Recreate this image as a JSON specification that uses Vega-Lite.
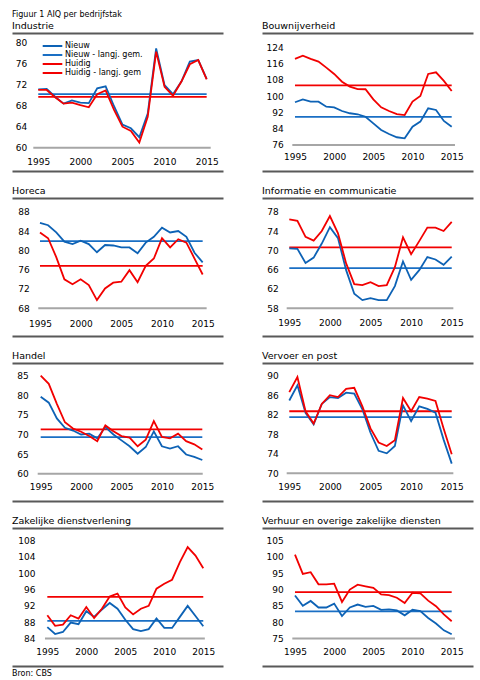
{
  "$schema": "https://vega.github.io/schema/vega-lite/v6.json",
  "padding": {"left": 12, "top": 10, "right": 5, "bottom": 5},
  "title": {"text": "Figuur 1 AIQ per bedrijfstak", "fontSize": 8, "offset": 2},
  "datasets": {
    "aiq": [
      {"sector": "Industrie", "year": 1995, "Nieuw": 71.1, "Huidig": 71.0},
      {"sector": "Industrie", "year": 1996, "Nieuw": 71.2, "Huidig": 71.0},
      {"sector": "Industrie", "year": 1997, "Nieuw": 69.7, "Huidig": 69.6},
      {"sector": "Industrie", "year": 1998, "Nieuw": 68.4, "Huidig": 68.4},
      {"sector": "Industrie", "year": 1999, "Nieuw": 69.0, "Huidig": 68.6},
      {"sector": "Industrie", "year": 2000, "Nieuw": 68.6, "Huidig": 68.1},
      {"sector": "Industrie", "year": 2001, "Nieuw": 68.5, "Huidig": 67.7},
      {"sector": "Industrie", "year": 2002, "Nieuw": 71.3, "Huidig": 70.2},
      {"sector": "Industrie", "year": 2003, "Nieuw": 71.7, "Huidig": 70.9},
      {"sector": "Industrie", "year": 2004, "Nieuw": 67.9, "Huidig": 67.2},
      {"sector": "Industrie", "year": 2005, "Nieuw": 64.4, "Huidig": 64.0},
      {"sector": "Industrie", "year": 2006, "Nieuw": 63.7, "Huidig": 63.2},
      {"sector": "Industrie", "year": 2007, "Nieuw": 62.0, "Huidig": 61.0},
      {"sector": "Industrie", "year": 2008, "Nieuw": 66.5, "Huidig": 65.9},
      {"sector": "Industrie", "year": 2009, "Nieuw": 78.9, "Huidig": 78.3},
      {"sector": "Industrie", "year": 2010, "Nieuw": 71.9, "Huidig": 71.6},
      {"sector": "Industrie", "year": 2011, "Nieuw": 70.2, "Huidig": 69.9},
      {"sector": "Industrie", "year": 2012, "Nieuw": 72.6, "Huidig": 72.6},
      {"sector": "Industrie", "year": 2013, "Nieuw": 76.4, "Huidig": 75.9},
      {"sector": "Industrie", "year": 2014, "Nieuw": 76.7, "Huidig": 76.7},
      {"sector": "Industrie", "year": 2015, "Nieuw": 73.1, "Huidig": 73.0},
      {"sector": "Bouwnijverheid", "year": 1995, "Nieuw": 97.0, "Huidig": 118.3},
      {"sector": "Bouwnijverheid", "year": 1996, "Nieuw": 98.4, "Huidig": 119.9},
      {"sector": "Bouwnijverheid", "year": 1997, "Nieuw": 97.3, "Huidig": 118.3},
      {"sector": "Bouwnijverheid", "year": 1998, "Nieuw": 97.3, "Huidig": 117.0},
      {"sector": "Bouwnijverheid", "year": 1999, "Nieuw": 94.8, "Huidig": 114.0},
      {"sector": "Bouwnijverheid", "year": 2000, "Nieuw": 94.5, "Huidig": 110.9},
      {"sector": "Bouwnijverheid", "year": 2001, "Nieuw": 92.7, "Huidig": 107.1},
      {"sector": "Bouwnijverheid", "year": 2002, "Nieuw": 91.6, "Huidig": 104.7},
      {"sector": "Bouwnijverheid", "year": 2003, "Nieuw": 91.1, "Huidig": 103.5},
      {"sector": "Bouwnijverheid", "year": 2004, "Nieuw": 89.9, "Huidig": 103.4},
      {"sector": "Bouwnijverheid", "year": 2005, "Nieuw": 86.6, "Huidig": 98.4},
      {"sector": "Bouwnijverheid", "year": 2006, "Nieuw": 83.4, "Huidig": 94.5},
      {"sector": "Bouwnijverheid", "year": 2007, "Nieuw": 81.4, "Huidig": 92.7},
      {"sector": "Bouwnijverheid", "year": 2008, "Nieuw": 79.8, "Huidig": 91.2},
      {"sector": "Bouwnijverheid", "year": 2009, "Nieuw": 79.3, "Huidig": 90.7},
      {"sector": "Bouwnijverheid", "year": 2010, "Nieuw": 85.0, "Huidig": 97.3},
      {"sector": "Bouwnijverheid", "year": 2011, "Nieuw": 87.5, "Huidig": 100.1},
      {"sector": "Bouwnijverheid", "year": 2012, "Nieuw": 94.0, "Huidig": 110.9},
      {"sector": "Bouwnijverheid", "year": 2013, "Nieuw": 93.2, "Huidig": 111.7},
      {"sector": "Bouwnijverheid", "year": 2014, "Nieuw": 87.8, "Huidig": 107.5},
      {"sector": "Bouwnijverheid", "year": 2015, "Nieuw": 85.0, "Huidig": 102.5},
      {"sector": "Horeca", "year": 1995, "Nieuw": 85.7, "Huidig": 83.7},
      {"sector": "Horeca", "year": 1996, "Nieuw": 85.2, "Huidig": 82.5},
      {"sector": "Horeca", "year": 1997, "Nieuw": 83.7, "Huidig": 78.6},
      {"sector": "Horeca", "year": 1998, "Nieuw": 81.8, "Huidig": 74.0},
      {"sector": "Horeca", "year": 1999, "Nieuw": 81.3, "Huidig": 73.0},
      {"sector": "Horeca", "year": 2000, "Nieuw": 82.0, "Huidig": 74.0},
      {"sector": "Horeca", "year": 2001, "Nieuw": 81.3, "Huidig": 72.8},
      {"sector": "Horeca", "year": 2002, "Nieuw": 79.6, "Huidig": 69.7},
      {"sector": "Horeca", "year": 2003, "Nieuw": 81.1, "Huidig": 72.1},
      {"sector": "Horeca", "year": 2004, "Nieuw": 81.0, "Huidig": 73.3},
      {"sector": "Horeca", "year": 2005, "Nieuw": 80.6, "Huidig": 73.5},
      {"sector": "Horeca", "year": 2006, "Nieuw": 80.6, "Huidig": 75.9},
      {"sector": "Horeca", "year": 2007, "Nieuw": 79.4, "Huidig": 73.4},
      {"sector": "Horeca", "year": 2008, "Nieuw": 81.6, "Huidig": 76.8},
      {"sector": "Horeca", "year": 2009, "Nieuw": 82.8, "Huidig": 78.3},
      {"sector": "Horeca", "year": 2010, "Nieuw": 84.7, "Huidig": 82.5},
      {"sector": "Horeca", "year": 2011, "Nieuw": 83.7, "Huidig": 80.6},
      {"sector": "Horeca", "year": 2012, "Nieuw": 84.0, "Huidig": 82.3},
      {"sector": "Horeca", "year": 2013, "Nieuw": 82.8, "Huidig": 81.6},
      {"sector": "Horeca", "year": 2014, "Nieuw": 79.5, "Huidig": 78.3},
      {"sector": "Horeca", "year": 2015, "Nieuw": 77.5, "Huidig": 75.0},
      {"sector": "Informatie en communicatie", "year": 1995, "Nieuw": 70.4, "Huidig": 76.4},
      {"sector": "Informatie en communicatie", "year": 1996, "Nieuw": 70.3, "Huidig": 76.1},
      {"sector": "Informatie en communicatie", "year": 1997, "Nieuw": 67.4, "Huidig": 72.8},
      {"sector": "Informatie en communicatie", "year": 1998, "Nieuw": 68.5, "Huidig": 72.0},
      {"sector": "Informatie en communicatie", "year": 1999, "Nieuw": 71.4, "Huidig": 74.0},
      {"sector": "Informatie en communicatie", "year": 2000, "Nieuw": 74.8, "Huidig": 77.1},
      {"sector": "Informatie en communicatie", "year": 2001, "Nieuw": 72.5, "Huidig": 73.5},
      {"sector": "Informatie en communicatie", "year": 2002, "Nieuw": 65.9, "Huidig": 67.3},
      {"sector": "Informatie en communicatie", "year": 2003, "Nieuw": 61.0, "Huidig": 63.0},
      {"sector": "Informatie en communicatie", "year": 2004, "Nieuw": 59.7, "Huidig": 62.8},
      {"sector": "Informatie en communicatie", "year": 2005, "Nieuw": 60.1, "Huidig": 63.4},
      {"sector": "Informatie en communicatie", "year": 2006, "Nieuw": 59.7, "Huidig": 62.6},
      {"sector": "Informatie en communicatie", "year": 2007, "Nieuw": 59.7, "Huidig": 62.8},
      {"sector": "Informatie en communicatie", "year": 2008, "Nieuw": 62.6, "Huidig": 66.5},
      {"sector": "Informatie en communicatie", "year": 2009, "Nieuw": 67.7, "Huidig": 72.7},
      {"sector": "Informatie en communicatie", "year": 2010, "Nieuw": 63.9, "Huidig": 69.2},
      {"sector": "Informatie en communicatie", "year": 2011, "Nieuw": 65.9, "Huidig": 71.9},
      {"sector": "Informatie en communicatie", "year": 2012, "Nieuw": 68.6, "Huidig": 74.7},
      {"sector": "Informatie en communicatie", "year": 2013, "Nieuw": 68.1, "Huidig": 74.7},
      {"sector": "Informatie en communicatie", "year": 2014, "Nieuw": 67.0, "Huidig": 74.0},
      {"sector": "Informatie en communicatie", "year": 2015, "Nieuw": 68.7, "Huidig": 75.9},
      {"sector": "Handel", "year": 1995, "Nieuw": 79.6, "Huidig": 85.0},
      {"sector": "Handel", "year": 1996, "Nieuw": 78.1, "Huidig": 82.9},
      {"sector": "Handel", "year": 1997, "Nieuw": 74.1, "Huidig": 77.8},
      {"sector": "Handel", "year": 1998, "Nieuw": 71.7, "Huidig": 73.1},
      {"sector": "Handel", "year": 1999, "Nieuw": 71.0, "Huidig": 71.5},
      {"sector": "Handel", "year": 2000, "Nieuw": 70.0, "Huidig": 70.7},
      {"sector": "Handel", "year": 2001, "Nieuw": 70.2, "Huidig": 69.6},
      {"sector": "Handel", "year": 2002, "Nieuw": 69.0, "Huidig": 68.3},
      {"sector": "Handel", "year": 2003, "Nieuw": 71.9, "Huidig": 72.3},
      {"sector": "Handel", "year": 2004, "Nieuw": 70.0, "Huidig": 70.8},
      {"sector": "Handel", "year": 2005, "Nieuw": 68.5, "Huidig": 69.6},
      {"sector": "Handel", "year": 2006, "Nieuw": 67.0, "Huidig": 69.2},
      {"sector": "Handel", "year": 2007, "Nieuw": 65.1, "Huidig": 67.0},
      {"sector": "Handel", "year": 2008, "Nieuw": 66.8, "Huidig": 68.7},
      {"sector": "Handel", "year": 2009, "Nieuw": 70.8, "Huidig": 73.4},
      {"sector": "Handel", "year": 2010, "Nieuw": 67.0, "Huidig": 69.4},
      {"sector": "Handel", "year": 2011, "Nieuw": 66.4, "Huidig": 69.0},
      {"sector": "Handel", "year": 2012, "Nieuw": 67.0, "Huidig": 70.2},
      {"sector": "Handel", "year": 2013, "Nieuw": 64.9, "Huidig": 68.3},
      {"sector": "Handel", "year": 2014, "Nieuw": 64.3, "Huidig": 67.5},
      {"sector": "Handel", "year": 2015, "Nieuw": 63.5, "Huidig": 66.2},
      {"sector": "Vervoer en post", "year": 1995, "Nieuw": 84.9, "Huidig": 86.6},
      {"sector": "Vervoer en post", "year": 1996, "Nieuw": 88.0, "Huidig": 89.7},
      {"sector": "Vervoer en post", "year": 1997, "Nieuw": 82.4, "Huidig": 82.7},
      {"sector": "Vervoer en post", "year": 1998, "Nieuw": 80.0, "Huidig": 80.2},
      {"sector": "Vervoer en post", "year": 1999, "Nieuw": 84.2, "Huidig": 84.2},
      {"sector": "Vervoer en post", "year": 2000, "Nieuw": 85.6, "Huidig": 86.0},
      {"sector": "Vervoer en post", "year": 2001, "Nieuw": 85.4, "Huidig": 85.6},
      {"sector": "Vervoer en post", "year": 2002, "Nieuw": 86.5, "Huidig": 87.3},
      {"sector": "Vervoer en post", "year": 2003, "Nieuw": 86.3, "Huidig": 87.5},
      {"sector": "Vervoer en post", "year": 2004, "Nieuw": 83.1, "Huidig": 83.7},
      {"sector": "Vervoer en post", "year": 2005, "Nieuw": 78.3, "Huidig": 79.2},
      {"sector": "Vervoer en post", "year": 2006, "Nieuw": 74.6, "Huidig": 76.3},
      {"sector": "Vervoer en post", "year": 2007, "Nieuw": 74.1, "Huidig": 75.6},
      {"sector": "Vervoer en post", "year": 2008, "Nieuw": 75.6, "Huidig": 76.8},
      {"sector": "Vervoer en post", "year": 2009, "Nieuw": 83.9, "Huidig": 85.4},
      {"sector": "Vervoer en post", "year": 2010, "Nieuw": 80.7, "Huidig": 82.7},
      {"sector": "Vervoer en post", "year": 2011, "Nieuw": 83.7, "Huidig": 85.6},
      {"sector": "Vervoer en post", "year": 2012, "Nieuw": 83.2, "Huidig": 85.3},
      {"sector": "Vervoer en post", "year": 2013, "Nieuw": 82.4, "Huidig": 84.8},
      {"sector": "Vervoer en post", "year": 2014, "Nieuw": 76.9, "Huidig": 79.2},
      {"sector": "Vervoer en post", "year": 2015, "Nieuw": 72.0, "Huidig": 73.9},
      {"sector": "Zakelijke dienstverlening", "year": 1995, "Nieuw": 86.8, "Huidig": 89.7},
      {"sector": "Zakelijke dienstverlening", "year": 1996, "Nieuw": 85.1, "Huidig": 87.1},
      {"sector": "Zakelijke dienstverlening", "year": 1997, "Nieuw": 85.6, "Huidig": 87.4},
      {"sector": "Zakelijke dienstverlening", "year": 1998, "Nieuw": 87.9, "Huidig": 89.7},
      {"sector": "Zakelijke dienstverlening", "year": 1999, "Nieuw": 87.5, "Huidig": 88.9},
      {"sector": "Zakelijke dienstverlening", "year": 2000, "Nieuw": 90.7, "Huidig": 91.7},
      {"sector": "Zakelijke dienstverlening", "year": 2001, "Nieuw": 89.3, "Huidig": 89.0},
      {"sector": "Zakelijke dienstverlening", "year": 2002, "Nieuw": 91.1, "Huidig": 91.3},
      {"sector": "Zakelijke dienstverlening", "year": 2003, "Nieuw": 92.7, "Huidig": 94.3},
      {"sector": "Zakelijke dienstverlening", "year": 2004, "Nieuw": 91.3, "Huidig": 95.0},
      {"sector": "Zakelijke dienstverlening", "year": 2005, "Nieuw": 88.6, "Huidig": 91.6},
      {"sector": "Zakelijke dienstverlening", "year": 2006, "Nieuw": 86.3, "Huidig": 89.9},
      {"sector": "Zakelijke dienstverlening", "year": 2007, "Nieuw": 85.8, "Huidig": 91.3},
      {"sector": "Zakelijke dienstverlening", "year": 2008, "Nieuw": 86.3, "Huidig": 92.0},
      {"sector": "Zakelijke dienstverlening", "year": 2009, "Nieuw": 88.9, "Huidig": 96.2},
      {"sector": "Zakelijke dienstverlening", "year": 2010, "Nieuw": 86.6, "Huidig": 97.4},
      {"sector": "Zakelijke dienstverlening", "year": 2011, "Nieuw": 86.6, "Huidig": 98.4},
      {"sector": "Zakelijke dienstverlening", "year": 2012, "Nieuw": 89.3, "Huidig": 102.7},
      {"sector": "Zakelijke dienstverlening", "year": 2013, "Nieuw": 92.0, "Huidig": 106.4},
      {"sector": "Zakelijke dienstverlening", "year": 2014, "Nieuw": 89.5, "Huidig": 104.3},
      {"sector": "Zakelijke dienstverlening", "year": 2015, "Nieuw": 87.0, "Huidig": 101.2},
      {"sector": "Verhuur en overige zakelijke diensten", "year": 1995, "Nieuw": 88.2, "Huidig": 100.7},
      {"sector": "Verhuur en overige zakelijke diensten", "year": 1996, "Nieuw": 85.0, "Huidig": 94.8},
      {"sector": "Verhuur en overige zakelijke diensten", "year": 1997, "Nieuw": 86.5, "Huidig": 95.3},
      {"sector": "Verhuur en overige zakelijke diensten", "year": 1998, "Nieuw": 84.5, "Huidig": 91.6},
      {"sector": "Verhuur en overige zakelijke diensten", "year": 1999, "Nieuw": 84.5, "Huidig": 91.6},
      {"sector": "Verhuur en overige zakelijke diensten", "year": 2000, "Nieuw": 85.7, "Huidig": 91.8},
      {"sector": "Verhuur en overige zakelijke diensten", "year": 2001, "Nieuw": 81.9, "Huidig": 86.2},
      {"sector": "Verhuur en overige zakelijke diensten", "year": 2002, "Nieuw": 84.5, "Huidig": 90.0},
      {"sector": "Verhuur en overige zakelijke diensten", "year": 2003, "Nieuw": 85.4, "Huidig": 91.5},
      {"sector": "Verhuur en overige zakelijke diensten", "year": 2004, "Nieuw": 84.7, "Huidig": 91.0},
      {"sector": "Verhuur en overige zakelijke diensten", "year": 2005, "Nieuw": 85.0, "Huidig": 90.5},
      {"sector": "Verhuur en overige zakelijke diensten", "year": 2006, "Nieuw": 83.8, "Huidig": 88.5},
      {"sector": "Verhuur en overige zakelijke diensten", "year": 2007, "Nieuw": 83.9, "Huidig": 88.3},
      {"sector": "Verhuur en overige zakelijke diensten", "year": 2008, "Nieuw": 83.6, "Huidig": 87.5},
      {"sector": "Verhuur en overige zakelijke diensten", "year": 2009, "Nieuw": 82.1, "Huidig": 85.9},
      {"sector": "Verhuur en overige zakelijke diensten", "year": 2010, "Nieuw": 83.8, "Huidig": 89.0},
      {"sector": "Verhuur en overige zakelijke diensten", "year": 2011, "Nieuw": 83.4, "Huidig": 88.8},
      {"sector": "Verhuur en overige zakelijke diensten", "year": 2012, "Nieuw": 81.3, "Huidig": 86.6},
      {"sector": "Verhuur en overige zakelijke diensten", "year": 2013, "Nieuw": 79.6, "Huidig": 84.9},
      {"sector": "Verhuur en overige zakelijke diensten", "year": 2014, "Nieuw": 77.5, "Huidig": 82.4},
      {"sector": "Verhuur en overige zakelijke diensten", "year": 2015, "Nieuw": 76.3, "Huidig": 80.3}
    ],
    "gem": [
      {"sector": "Industrie", "Nieuw": 70.2, "Huidig": 69.7},
      {"sector": "Bouwnijverheid", "Nieuw": 89.8, "Huidig": 105.3},
      {"sector": "Horeca", "Nieuw": 81.9, "Huidig": 76.8},
      {"sector": "Informatie en communicatie", "Nieuw": 66.3, "Huidig": 70.6},
      {"sector": "Handel", "Nieuw": 69.3, "Huidig": 71.3},
      {"sector": "Vervoer en post", "Nieuw": 81.5, "Huidig": 82.7},
      {"sector": "Zakelijke dienstverlening", "Nieuw": 88.3, "Huidig": 94.2},
      {"sector": "Verhuur en overige zakelijke diensten", "Nieuw": 83.3, "Huidig": 89.2}
    ]
  },
  "vconcat": [
    {
      "title": {"text": "Bron: CBS", "orient": "bottom", "fontSize": 8, "offset": 4},
      "columns": 2,
      "spacing": {"row": 14, "column": 39},
      "resolve": {"scale": {"color": "independent"}},
      "concat": [
        {
          "title": "Industrie",
          "width": 211, "height": 138,
          "resolve": {"axis": {"x": "independent"}},
          "layer": [
            {
              "data": {"name": "gem"},
              "transform": [{"filter": {"field": "sector", "equal": "Industrie"}}],
              "mark": {"type": "rule", "color": "#a6a6a6", "strokeWidth": 2},
              "encoding": {
                "x": {"datum": 1994.41, "type": "quantitative", "axis": {"orient": "top", "title": null}},
                "x2": {"datum": 2015.48},
                "y": {"datum": 60, "type": "quantitative"}
              }
            },
            {
              "data": {"name": "gem"},
              "transform": [{"filter": {"field": "sector", "equal": "Industrie"}}],
              "mark": {"type": "rule", "strokeWidth": 1.8},
              "encoding": {
                "x": {"datum": 1995, "type": "quantitative", "axis": null},
                "x2": {"datum": 2015},
                "y": {"field": "Nieuw", "type": "quantitative"},
                "color": {"datum": "Nieuw - langj. gem."}
              }
            },
            {
              "data": {"name": "gem"},
              "transform": [{"filter": {"field": "sector", "equal": "Industrie"}}],
              "mark": {"type": "rule", "strokeWidth": 1.8},
              "encoding": {
                "x": {"datum": 1995, "type": "quantitative", "axis": null},
                "x2": {"datum": 2015},
                "y": {"field": "Huidig", "type": "quantitative"},
                "color": {"datum": "Huidig - langj. gem"}
              }
            },
            {
              "data": {"name": "aiq"},
              "transform": [{"filter": {"field": "sector", "equal": "Industrie"}}, {"fold": ["Nieuw", "Huidig"], "as": ["series", "value"]}],
              "mark": {"type": "line", "strokeWidth": 1.8},
              "encoding": {
                "x": {"field": "year", "type": "quantitative", "scale": {"domain": [1991.88, 2016.94], "nice": false, "zero": false}, "axis": {"orient": "bottom", "values": [1995, 2000, 2005, 2010, 2015], "tickCount": 20, "format": "d", "labelPadding": -9.4, "labelOverlap": false, "title": null}},
                "y": {"field": "value", "type": "quantitative", "scale": {"domain": [55.56, 81.85], "nice": false, "zero": false}, "axis": {"values": [60, 64, 68, 72, 76, 80], "tickCount": 20, "labelPadding": -14.7, "labelOverlap": false, "title": null}},
                "color": {"field": "series", "type": "nominal", "scale": {"domain": ["Nieuw", "Nieuw - langj. gem.", "Huidig", "Huidig - langj. gem"], "range": ["#0d62b5", "#1a6fc4", "#f20000", "#f20000"]},
                  "legend": {"orient": "none", "legendX": 36.5, "legendY": 9, "title": null, "symbolType": "M-4.9,0H4.9", "symbolSize": 16, "symbolStrokeWidth": 2, "labelFontSize": 8, "labelOffset": 8.5, "rowPadding": 1, "padding": 0}}
              }
            }
          ]
        },
        {
          "title": "Bouwnijverheid",
          "width": 211, "height": 138,
          "resolve": {"axis": {"x": "independent"}},
          "layer": [
            {
              "data": {"name": "gem"},
              "transform": [{"filter": {"field": "sector", "equal": "Bouwnijverheid"}}],
              "mark": {"type": "rule", "color": "#a6a6a6", "strokeWidth": 2},
              "encoding": {
                "x": {"datum": 1994.66, "type": "quantitative", "axis": {"orient": "top", "title": null}},
                "x2": {"datum": 2015.42},
                "y": {"datum": 76, "type": "quantitative"}
              }
            },
            {
              "data": {"name": "gem"},
              "transform": [{"filter": {"field": "sector", "equal": "Bouwnijverheid"}}],
              "mark": {"type": "rule", "strokeWidth": 1.8},
              "encoding": {
                "x": {"datum": 1995, "type": "quantitative", "axis": null},
                "x2": {"datum": 2015},
                "y": {"field": "Nieuw", "type": "quantitative"},
                "color": {"datum": "Nieuw - langj. gem.", "legend": null}
              }
            },
            {
              "data": {"name": "gem"},
              "transform": [{"filter": {"field": "sector", "equal": "Bouwnijverheid"}}],
              "mark": {"type": "rule", "strokeWidth": 1.8},
              "encoding": {
                "x": {"datum": 1995, "type": "quantitative", "axis": null},
                "x2": {"datum": 2015},
                "y": {"field": "Huidig", "type": "quantitative"},
                "color": {"datum": "Huidig - langj. gem", "legend": null}
              }
            },
            {
              "data": {"name": "aiq"},
              "transform": [{"filter": {"field": "sector", "equal": "Bouwnijverheid"}}, {"fold": ["Nieuw", "Huidig"], "as": ["series", "value"]}],
              "mark": {"type": "line", "strokeWidth": 1.8},
              "encoding": {
                "x": {"field": "year", "type": "quantitative", "scale": {"domain": [1990.79, 2017.72], "nice": false, "zero": false}, "axis": {"orient": "bottom", "values": [1995, 2000, 2005, 2010, 2015], "tickCount": 20, "format": "d", "labelPadding": -14.7, "labelOverlap": false, "title": null}},
                "y": {"field": "value", "type": "quantitative", "scale": {"domain": [63.22, 131.03], "nice": false, "zero": false}, "axis": {"values": [76, 84, 92, 100, 108, 116, 124], "tickCount": 20, "labelPadding": -21.3, "labelOverlap": false, "title": null}},
                "color": {"field": "series", "type": "nominal", "scale": {"domain": ["Nieuw", "Nieuw - langj. gem.", "Huidig", "Huidig - langj. gem"], "range": ["#0d62b5", "#1a6fc4", "#f20000", "#f20000"]}, "legend": null}
              }
            }
          ]
        },
        {
          "title": "Horeca",
          "width": 211, "height": 138,
          "resolve": {"axis": {"x": "independent"}},
          "layer": [
            {
              "data": {"name": "gem"},
              "transform": [{"filter": {"field": "sector", "equal": "Horeca"}}],
              "mark": {"type": "rule", "color": "#a6a6a6", "strokeWidth": 2},
              "encoding": {
                "x": {"datum": 1994.79, "type": "quantitative", "axis": {"orient": "top", "title": null}},
                "x2": {"datum": 2015.49},
                "y": {"datum": 68, "type": "quantitative"}
              }
            },
            {
              "data": {"name": "gem"},
              "transform": [{"filter": {"field": "sector", "equal": "Horeca"}}],
              "mark": {"type": "rule", "strokeWidth": 1.8},
              "encoding": {
                "x": {"datum": 1995, "type": "quantitative", "axis": null},
                "x2": {"datum": 2015},
                "y": {"field": "Nieuw", "type": "quantitative"},
                "color": {"datum": "Nieuw - langj. gem.", "legend": null}
              }
            },
            {
              "data": {"name": "gem"},
              "transform": [{"filter": {"field": "sector", "equal": "Horeca"}}],
              "mark": {"type": "rule", "strokeWidth": 1.8},
              "encoding": {
                "x": {"datum": 1995, "type": "quantitative", "axis": null},
                "x2": {"datum": 2015},
                "y": {"field": "Huidig", "type": "quantitative"},
                "color": {"datum": "Huidig - langj. gem", "legend": null}
              }
            },
            {
              "data": {"name": "aiq"},
              "transform": [{"filter": {"field": "sector", "equal": "Horeca"}}, {"fold": ["Nieuw", "Huidig"], "as": ["series", "value"]}],
              "mark": {"type": "line", "strokeWidth": 1.8},
              "encoding": {
                "x": {"field": "year", "type": "quantitative", "scale": {"domain": [1991.56, 2017.5], "nice": false, "zero": false}, "axis": {"orient": "bottom", "values": [1995, 2000, 2005, 2010, 2015], "tickCount": 20, "format": "d", "labelPadding": -13, "labelOverlap": false, "title": null}},
                "y": {"field": "value", "type": "quantitative", "scale": {"domain": [62.27, 90.83], "nice": false, "zero": false}, "axis": {"values": [68, 72, 76, 80, 84, 88], "tickCount": 20, "labelPadding": -17.3, "labelOverlap": false, "title": null}},
                "color": {"field": "series", "type": "nominal", "scale": {"domain": ["Nieuw", "Nieuw - langj. gem.", "Huidig", "Huidig - langj. gem"], "range": ["#0d62b5", "#1a6fc4", "#f20000", "#f20000"]}, "legend": null}
              }
            }
          ]
        },
        {
          "title": "Informatie en communicatie",
          "width": 211, "height": 138,
          "resolve": {"axis": {"x": "independent"}},
          "layer": [
            {
              "data": {"name": "gem"},
              "transform": [{"filter": {"field": "sector", "equal": "Informatie en communicatie"}}],
              "mark": {"type": "rule", "color": "#a6a6a6", "strokeWidth": 2},
              "encoding": {
                "x": {"datum": 1994.68, "type": "quantitative", "axis": {"orient": "top", "title": null}},
                "x2": {"datum": 2015.2},
                "y": {"datum": 58, "type": "quantitative"}
              }
            },
            {
              "data": {"name": "gem"},
              "transform": [{"filter": {"field": "sector", "equal": "Informatie en communicatie"}}],
              "mark": {"type": "rule", "strokeWidth": 1.8},
              "encoding": {
                "x": {"datum": 1995, "type": "quantitative", "axis": null},
                "x2": {"datum": 2015},
                "y": {"field": "Nieuw", "type": "quantitative"},
                "color": {"datum": "Nieuw - langj. gem.", "legend": null}
              }
            },
            {
              "data": {"name": "gem"},
              "transform": [{"filter": {"field": "sector", "equal": "Informatie en communicatie"}}],
              "mark": {"type": "rule", "strokeWidth": 1.8},
              "encoding": {
                "x": {"datum": 1995, "type": "quantitative", "axis": null},
                "x2": {"datum": 2015},
                "y": {"field": "Huidig", "type": "quantitative"},
                "color": {"datum": "Huidig - langj. gem", "legend": null}
              }
            },
            {
              "data": {"name": "aiq"},
              "transform": [{"filter": {"field": "sector", "equal": "Informatie en communicatie"}}, {"fold": ["Nieuw", "Huidig"], "as": ["series", "value"]}],
              "mark": {"type": "line", "strokeWidth": 1.8},
              "encoding": {
                "x": {"field": "year", "type": "quantitative", "scale": {"domain": [1991.64, 2017.62], "nice": false, "zero": false}, "axis": {"orient": "bottom", "values": [1995, 2000, 2005, 2010, 2015], "tickCount": 20, "format": "d", "labelPadding": -14, "labelOverlap": false, "title": null}},
                "y": {"field": "value", "type": "quantitative", "scale": {"domain": [52.27, 80.83], "nice": false, "zero": false}, "axis": {"values": [58, 62, 66, 70, 74, 78], "tickCount": 20, "labelPadding": -16.3, "labelOverlap": false, "title": null}},
                "color": {"field": "series", "type": "nominal", "scale": {"domain": ["Nieuw", "Nieuw - langj. gem.", "Huidig", "Huidig - langj. gem"], "range": ["#0d62b5", "#1a6fc4", "#f20000", "#f20000"]}, "legend": null}
              }
            }
          ]
        },
        {
          "title": "Handel",
          "width": 211, "height": 138,
          "resolve": {"axis": {"x": "independent"}},
          "layer": [
            {
              "data": {"name": "gem"},
              "transform": [{"filter": {"field": "sector", "equal": "Handel"}}],
              "mark": {"type": "rule", "color": "#a6a6a6", "strokeWidth": 2},
              "encoding": {
                "x": {"datum": 1994.63, "type": "quantitative", "axis": {"orient": "top", "title": null}},
                "x2": {"datum": 2015.05},
                "y": {"datum": 60, "type": "quantitative"}
              }
            },
            {
              "data": {"name": "gem"},
              "transform": [{"filter": {"field": "sector", "equal": "Handel"}}],
              "mark": {"type": "rule", "strokeWidth": 1.8},
              "encoding": {
                "x": {"datum": 1995, "type": "quantitative", "axis": null},
                "x2": {"datum": 2015},
                "y": {"field": "Nieuw", "type": "quantitative"},
                "color": {"datum": "Nieuw - langj. gem.", "legend": null}
              }
            },
            {
              "data": {"name": "gem"},
              "transform": [{"filter": {"field": "sector", "equal": "Handel"}}],
              "mark": {"type": "rule", "strokeWidth": 1.8},
              "encoding": {
                "x": {"datum": 1995, "type": "quantitative", "axis": null},
                "x2": {"datum": 2015},
                "y": {"field": "Huidig", "type": "quantitative"},
                "color": {"datum": "Huidig - langj. gem", "legend": null}
              }
            },
            {
              "data": {"name": "aiq"},
              "transform": [{"filter": {"field": "sector", "equal": "Handel"}}, {"fold": ["Nieuw", "Huidig"], "as": ["series", "value"]}],
              "mark": {"type": "line", "strokeWidth": 1.8},
              "encoding": {
                "x": {"field": "year", "type": "quantitative", "scale": {"domain": [1991.45, 2017.56], "nice": false, "zero": false}, "axis": {"orient": "bottom", "values": [1995, 2000, 2005, 2010, 2015], "tickCount": 20, "format": "d", "labelPadding": -14.3, "labelOverlap": false, "title": null}},
                "y": {"field": "value", "type": "quantitative", "scale": {"domain": [53.06, 88.2], "nice": false, "zero": false}, "axis": {"values": [60, 65, 70, 75, 80, 85], "tickCount": 20, "labelPadding": -16.3, "labelOverlap": false, "title": null}},
                "color": {"field": "series", "type": "nominal", "scale": {"domain": ["Nieuw", "Nieuw - langj. gem.", "Huidig", "Huidig - langj. gem"], "range": ["#0d62b5", "#1a6fc4", "#f20000", "#f20000"]}, "legend": null}
              }
            }
          ]
        },
        {
          "title": "Vervoer en post",
          "width": 211, "height": 138,
          "resolve": {"axis": {"x": "independent"}},
          "layer": [
            {
              "data": {"name": "gem"},
              "transform": [{"filter": {"field": "sector", "equal": "Vervoer en post"}}],
              "mark": {"type": "rule", "color": "#a6a6a6", "strokeWidth": 2},
              "encoding": {
                "x": {"datum": 1994.68, "type": "quantitative", "axis": {"orient": "top", "title": null}},
                "x2": {"datum": 2015.2},
                "y": {"datum": 70, "type": "quantitative"}
              }
            },
            {
              "data": {"name": "gem"},
              "transform": [{"filter": {"field": "sector", "equal": "Vervoer en post"}}],
              "mark": {"type": "rule", "strokeWidth": 1.8},
              "encoding": {
                "x": {"datum": 1995, "type": "quantitative", "axis": null},
                "x2": {"datum": 2015},
                "y": {"field": "Nieuw", "type": "quantitative"},
                "color": {"datum": "Nieuw - langj. gem.", "legend": null}
              }
            },
            {
              "data": {"name": "gem"},
              "transform": [{"filter": {"field": "sector", "equal": "Vervoer en post"}}],
              "mark": {"type": "rule", "strokeWidth": 1.8},
              "encoding": {
                "x": {"datum": 1995, "type": "quantitative", "axis": null},
                "x2": {"datum": 2015},
                "y": {"field": "Huidig", "type": "quantitative"},
                "color": {"datum": "Huidig - langj. gem", "legend": null}
              }
            },
            {
              "data": {"name": "aiq"},
              "transform": [{"filter": {"field": "sector", "equal": "Vervoer en post"}}, {"fold": ["Nieuw", "Huidig"], "as": ["series", "value"]}],
              "mark": {"type": "line", "strokeWidth": 1.8},
              "encoding": {
                "x": {"field": "year", "type": "quantitative", "scale": {"domain": [1991.64, 2017.62], "nice": false, "zero": false}, "axis": {"orient": "bottom", "values": [1995, 2000, 2005, 2010, 2015], "tickCount": 20, "format": "d", "labelPadding": -14.3, "labelOverlap": false, "title": null}},
                "y": {"field": "value", "type": "quantitative", "scale": {"domain": [64.35, 92.57], "nice": false, "zero": false}, "axis": {"values": [70, 74, 78, 82, 86, 90], "tickCount": 20, "labelPadding": -16.3, "labelOverlap": false, "title": null}},
                "color": {"field": "series", "type": "nominal", "scale": {"domain": ["Nieuw", "Nieuw - langj. gem.", "Huidig", "Huidig - langj. gem"], "range": ["#0d62b5", "#1a6fc4", "#f20000", "#f20000"]}, "legend": null}
              }
            }
          ]
        },
        {
          "title": "Zakelijke dienstverlening",
          "width": 211, "height": 138,
          "resolve": {"axis": {"x": "independent"}},
          "layer": [
            {
              "data": {"name": "gem"},
              "transform": [{"filter": {"field": "sector", "equal": "Zakelijke dienstverlening"}}],
              "mark": {"type": "rule", "color": "#a6a6a6", "strokeWidth": 2},
              "encoding": {
                "x": {"datum": 1994.7, "type": "quantitative", "axis": {"orient": "top", "title": null}},
                "x2": {"datum": 2015.2},
                "y": {"datum": 84, "type": "quantitative"}
              }
            },
            {
              "data": {"name": "gem"},
              "transform": [{"filter": {"field": "sector", "equal": "Zakelijke dienstverlening"}}],
              "mark": {"type": "rule", "strokeWidth": 1.8},
              "encoding": {
                "x": {"datum": 1995, "type": "quantitative", "axis": null},
                "x2": {"datum": 2015},
                "y": {"field": "Nieuw", "type": "quantitative"},
                "color": {"datum": "Nieuw - langj. gem.", "legend": null}
              }
            },
            {
              "data": {"name": "gem"},
              "transform": [{"filter": {"field": "sector", "equal": "Zakelijke dienstverlening"}}],
              "mark": {"type": "rule", "strokeWidth": 1.8},
              "encoding": {
                "x": {"datum": 1995, "type": "quantitative", "axis": null},
                "x2": {"datum": 2015},
                "y": {"field": "Huidig", "type": "quantitative"},
                "color": {"datum": "Huidig - langj. gem", "legend": null}
              }
            },
            {
              "data": {"name": "aiq"},
              "transform": [{"filter": {"field": "sector", "equal": "Zakelijke dienstverlening"}}, {"fold": ["Nieuw", "Huidig"], "as": ["series", "value"]}],
              "mark": {"type": "line", "strokeWidth": 1.8},
              "encoding": {
                "x": {"field": "year", "type": "quantitative", "scale": {"domain": [1990.47, 2017.53], "nice": false, "zero": false}, "axis": {"orient": "bottom", "values": [1995, 2000, 2005, 2010, 2015], "tickCount": 20, "format": "d", "labelPadding": -14.3, "labelOverlap": false, "title": null}},
                "y": {"field": "value", "type": "quantitative", "scale": {"domain": [77.27, 111.07], "nice": false, "zero": false}, "axis": {"values": [84, 88, 92, 96, 100, 104, 108], "tickCount": 20, "labelPadding": -23, "labelOverlap": false, "title": null}},
                "color": {"field": "series", "type": "nominal", "scale": {"domain": ["Nieuw", "Nieuw - langj. gem.", "Huidig", "Huidig - langj. gem"], "range": ["#0d62b5", "#1a6fc4", "#f20000", "#f20000"]}, "legend": null}
              }
            }
          ]
        },
        {
          "title": "Verhuur en overige zakelijke diensten",
          "width": 211, "height": 138,
          "resolve": {"axis": {"x": "independent"}},
          "layer": [
            {
              "data": {"name": "gem"},
              "transform": [{"filter": {"field": "sector", "equal": "Verhuur en overige zakelijke diensten"}}],
              "mark": {"type": "rule", "color": "#a6a6a6", "strokeWidth": 2},
              "encoding": {
                "x": {"datum": 1994.66, "type": "quantitative", "axis": {"orient": "top", "title": null}},
                "x2": {"datum": 2015.42},
                "y": {"datum": 75, "type": "quantitative"}
              }
            },
            {
              "data": {"name": "gem"},
              "transform": [{"filter": {"field": "sector", "equal": "Verhuur en overige zakelijke diensten"}}],
              "mark": {"type": "rule", "strokeWidth": 1.8},
              "encoding": {
                "x": {"datum": 1995, "type": "quantitative", "axis": null},
                "x2": {"datum": 2015},
                "y": {"field": "Nieuw", "type": "quantitative"},
                "color": {"datum": "Nieuw - langj. gem.", "legend": null}
              }
            },
            {
              "data": {"name": "gem"},
              "transform": [{"filter": {"field": "sector", "equal": "Verhuur en overige zakelijke diensten"}}],
              "mark": {"type": "rule", "strokeWidth": 1.8},
              "encoding": {
                "x": {"datum": 1995, "type": "quantitative", "axis": null},
                "x2": {"datum": 2015},
                "y": {"field": "Huidig", "type": "quantitative"},
                "color": {"datum": "Huidig - langj. gem", "legend": null}
              }
            },
            {
              "data": {"name": "aiq"},
              "transform": [{"filter": {"field": "sector", "equal": "Verhuur en overige zakelijke diensten"}}, {"fold": ["Nieuw", "Huidig"], "as": ["series", "value"]}],
              "mark": {"type": "line", "strokeWidth": 1.8},
              "encoding": {
                "x": {"field": "year", "type": "quantitative", "scale": {"domain": [1990.79, 2017.72], "nice": false, "zero": false}, "axis": {"orient": "bottom", "values": [1995, 2000, 2005, 2010, 2015], "tickCount": 20, "format": "d", "labelPadding": -14.3, "labelOverlap": false, "title": null}},
                "y": {"field": "value", "type": "quantitative", "scale": {"domain": [66.59, 108.84], "nice": false, "zero": false}, "axis": {"values": [75, 80, 85, 90, 95, 100, 105], "tickCount": 20, "labelPadding": -21.3, "labelOverlap": false, "title": null}},
                "color": {"field": "series", "type": "nominal", "scale": {"domain": ["Nieuw", "Nieuw - langj. gem.", "Huidig", "Huidig - langj. gem"], "range": ["#0d62b5", "#1a6fc4", "#f20000", "#f20000"]}, "legend": null}
              }
            }
          ]
        }
      ]
    }
  ],
  "config": {
    "font": "DejaVu Sans",
    "view": {"stroke": null},
    "title": {"anchor": "start", "fontSize": 9.5, "fontWeight": "normal", "offset": 3, "color": "#000000", "font": "DejaVu Sans"},
    "axisBottom": {"domainColor": "#595959", "domainWidth": 2, "ticks": false, "tickSize": 0, "labelBaseline": "middle", "labelFontSize": 9, "labelColor": "#000000", "grid": false, "labelFlush": false, "labelOverlap": false},
    "axisTop": {"domainColor": "#595959", "domainWidth": 2, "ticks": false, "tickSize": 0, "labels": false, "grid": false},
    "axisLeft": {"domain": false, "ticks": false, "tickSize": 0, "grid": false, "labelFontSize": 9, "labelColor": "#000000", "labelOverlap": false},
    "legend": {"labelFont": "DejaVu Sans", "labelColor": "#000000"}
  }
}
